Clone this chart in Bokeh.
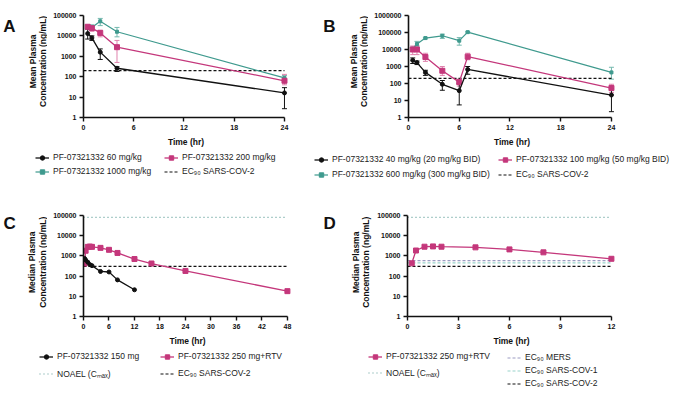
import math
from bokeh.plotting import figure
from bokeh.models import (Range1d, FixedTicker, Legend, LegendItem, Whisker, TeeHead,
                          ColumnDataSource, Label)
from bokeh.layouts import column, row
from bokeh.embed import file_html
from bokeh.resources import INLINE

# ---------------- data ----------------
# Panel A (mean plasma, single dose)
tA = [0.5, 1, 2, 4, 24]
a60 = [13000, 8000, 1600, 260, 16]
a60_lo = [7000, 6000, 700, 180, 2.7]
a60_hi = [22000, 10000, 2300, 310, 29]
a200 = [28000, 24000, 14000, 2800, 63]
a200_lo = [22000, 17000, 9000, 500, 40]
a200_hi = [33000, 31000, 19000, 6000, 130]
a1000 = [27000, 26000, 52000, 16000, 87]
a1000_lo = [21000, 19000, 32000, 9000, 60]
a1000_hi = [33000, 35000, 72000, 26000, 115]
ec90_A = 200

# Panel B (mean plasma, BID)
tB = [0.5, 1, 2, 4, 6, 7, 24]
b40 = [2300, 1700, 450, 90, 38, 670, 21]
b40_lo = [1500, 1300, 300, 40, 5.5, 350, 2.2]
b40_hi = [3200, 2100, 600, 150, 100, 1000, 50]
b100 = [10000, 10000, 3600, 560, 120, 3800, 54]
b100_lo = [5000, 5000, 2000, 300, 70, 2500, 30]
b100_hi = [16000, 17000, 6000, 1000, 180, 6000, 90]
b600 = [11000, 21000, 47000, 64000, 33000, 105000, 450]
b600_lo = [8000, 15000, 42000, 45000, 18000, 95000, 180]
b600_hi = [14000, 30000, 52000, 80000, 50000, 115000, 900]
ec90_B = 200

# Panel C (median plasma, human)
tC150 = [0.25, 0.5, 1, 1.5, 2, 4, 6, 8, 12]
c150 = [750, 630, 490, 370, 330, 170, 160, 65, 21]
tC250 = [0.25, 0.5, 1, 1.5, 2, 4, 6, 8, 12, 16, 24, 48]
c250 = [420, 1800, 2800, 2900, 2800, 2500, 2000, 1400, 700, 420, 180, 18]
noael = 80000
ec90_sars2 = 300

# Panel D
tD = [0.25, 0.5, 1, 1.5, 2, 4, 6, 8, 12]
d250 = [430, 1850, 2850, 2950, 2850, 2650, 2100, 1500, 720]
ec90_mers = 580
ec90_sars1 = 450

y_ticks_5 = [1, 10, 100, 1000, 10000, 100000]
y_ticks_6 = [1, 10, 100, 1000, 10000, 100000, 1000000]
xticks_A = [0, 6, 12, 18, 24]
xticks_C = [0, 6, 12, 18, 24, 30, 36, 42, 48]
xticks_D = [0, 3, 6, 9, 12]

# ---------------- style ----------------
FONT = "Liberation Sans"
BLACK = "#111111"
TEAL = "#3f9a8e"
TEAL_ERR = "#74b8ae"
MAG = "#c4377b"
MAG_ERR = "#e083ae"
NOAEL_C = "#5d9d96"
MERS_C = "#9c9cc2"
SARS1_C = "#9ad3cb"
PAD = 0.02
LEG_FONT = "8.5px"
LH = 11  # legend glyph/label box height


def make_fig(width, height, xmax, ymax, yticks, xticks, left, frame_w, top, frame_h):
    right = width - left - frame_w
    bottom = height - top - frame_h
    p = figure(width=width, height=height, title=None,
               x_range=Range1d(0, xmax * (1 + PAD)), y_range=Range1d(1, ymax),
               y_axis_type="log", output_backend="svg", toolbar_location=None,
               min_border_left=left, min_border_right=right,
               min_border_top=top, min_border_bottom=bottom)
    p.outline_line_color = None
    p.grid.visible = False
    for ax in (p.xaxis[0], p.yaxis[0]):
        ax.axis_line_width = 1.6
        ax.axis_line_color = BLACK
        ax.major_tick_line_width = 1.4
        ax.major_tick_line_color = BLACK
        ax.major_tick_out = 4
        ax.major_tick_in = 0
        ax.minor_tick_line_color = None
        ax.major_label_text_font = FONT
        ax.major_label_text_font_style = "bold"
        ax.major_label_text_font_size = "7px"
        ax.major_label_text_color = BLACK
        ax.major_label_standoff = 3
    xa = p.xaxis[0]
    xa.ticker = FixedTicker(ticks=xticks)
    xa.bounds = (0, xmax)
    xa.axis_label = "Time (hr)"
    xa.axis_label_text_font = FONT
    xa.axis_label_text_font_style = "bold"
    xa.axis_label_text_color = BLACK
    xa.axis_label_text_font_size = "8.5px"
    xa.axis_label_standoff = 4
    ya = p.yaxis[0]
    ya.ticker = FixedTicker(ticks=yticks)
    ya.major_label_overrides = {t: str(t) for t in yticks}
    return p


def blank_fig(width, height):
    # pixel-sized ranges so that annotations can be placed in the figure's own units
    p = figure(width=width, height=height, title=None,
               x_range=Range1d(0, width), y_range=Range1d(0, height),
               output_backend="svg", toolbar_location=None, min_border=0,
               x_axis_location=None, y_axis_location=None)
    p.outline_line_color = None
    p.grid.visible = False
    return p


def series(p, x, y, color, marker, size, lo=None, hi=None, err_color=None, lw=1.3):
    r_line = p.line(x, y, line_color=color, line_width=lw)
    r_pt = p.scatter(x, y, marker=marker, size=size, fill_color=color, line_color=color)
    if lo is not None:
        src = ColumnDataSource(dict(x=x, lo=lo, hi=hi))
        ec = err_color or color
        w = Whisker(source=src, base="x", lower="lo", upper="hi", line_color=ec, line_width=1,
                    upper_head=TeeHead(size=5, line_color=ec, line_width=1),
                    lower_head=TeeHead(size=5, line_color=ec, line_width=1))
        p.add_layout(w)
    return [r_line, r_pt]


def refline(p, xmax, yv, color, dash, lw=1.2):
    return [p.line([0, xmax], [yv, yv], line_color=color, line_dash=dash, line_width=lw)]


# legend swatches: hidden copies of the series (only their legend glyph is shown)
def sw_series(p, x, y, color, marker, size, lw=1.3):
    rs = [p.line(x, y, line_color=color, line_width=lw),
          p.scatter(x, y, marker=marker, size=size, fill_color=color, line_color=color)]
    for r in rs:
        r.visible = False
    return rs


def sw_ref(p, xmax, yv, color, dash, lw=1.2):
    r = p.line([0, xmax], [yv, yv], line_color=color, line_dash=dash, line_width=lw)
    r.visible = False
    return [r]


def add_legend(p, items, x, y, spacing):
    leg = Legend(items=[LegendItem(label=l, renderers=r) for l, r in items],
                 location=(x, y), orientation="vertical",
                 label_text_font=FONT, label_text_font_size=LEG_FONT, label_text_color="#222222",
                 glyph_width=14, glyph_height=LH, label_height=LH, label_standoff=4,
                 spacing=spacing, padding=0, margin=0, border_line_color=None,
                 background_fill_alpha=0, inactive_fill_alpha=0)
    p.add_layout(leg)


def side_fig(width, height, letter, lx, ly, line1, x1, x2, yc):
    # panel letter and the two-line y-axis title
    p = blank_fig(width, height)
    p.add_layout(Label(x=lx, y=ly, text=letter, text_align="left", text_baseline="bottom",
                       text_font=FONT, text_font_style="bold", text_font_size="17px",
                       text_color=BLACK))
    for txt, xx in ((line1, x1), ("Concentration (ng/mL)", x2)):
        p.add_layout(Label(x=xx, y=yc, text=txt, angle=math.pi / 2, text_align="center",
                           text_baseline="middle", text_font=FONT, text_font_style="bold",
                           text_font_size="8.5px", text_color=BLACK))
    return p


EC = "EC\u2089\u2080 "
NOAEL_LABEL = "NOAEL (C\u2098\u2090\u2093)"

# ---------------- Panel A ---------------- page: x 0..300, y 0..198 ; frame x 83..288, y 15..119
pA = make_fig(253, 149, 24, 100000, y_ticks_5, xticks_A, 36, 205, 15, 104)
refline(pA, 24, ec90_A, BLACK, "3 2")
series(pA, tA, a1000, TEAL, "square", 3, a1000_lo, a1000_hi, TEAL_ERR, 1.2)
series(pA, tA, a200, MAG, "square", 5, a200_lo, a200_hi, MAG_ERR)
series(pA, tA, a60, BLACK, "circle", 4, a60_lo, a60_hi, BLACK)
legA = blank_fig(300, 49)
add_legend(legA, [("PF-07321332 60 mg/kg", sw_series(legA, tA, a60, BLACK, "circle", 4)),
                  ("PF-07321332 1000 mg/kg", sw_series(legA, tA, a1000, TEAL, "square", 3, 1.2))],
           35, 21.5, 3)
add_legend(legA, [("PF-07321332 200 mg/kg", sw_series(legA, tA, a200, MAG, "square", 5)),
                  (EC + "SARS-COV-2", sw_ref(legA, 24, ec90_A, BLACK, "3 2"))], 164, 21.5, 3)
panelA = column(row(side_fig(47, 149, "A", 2.7, 119.4, "Mean Plasma", 32.3, 42.3, 82), pA), legA)

# ---------------- Panel B ---------------- page: x 300..680 ; frame x 408..615
pB = make_fig(312, 149, 24, 1000000, y_ticks_6, xticks_A, 40, 207, 15, 104)
refline(pB, 24, ec90_B, BLACK, "3 2")
series(pB, tB, b600, TEAL, "square", 3, b600_lo, b600_hi, TEAL_ERR, 1.2)
series(pB, tB, b100, MAG, "square", 5, b100_lo, b100_hi, MAG_ERR)
series(pB, tB, b40, BLACK, "circle", 4, b40_lo, b40_hi, BLACK)
legB = blank_fig(380, 49)
add_legend(legB, [("PF-07321332 40 mg/kg (20 mg/kg BID)", sw_series(legB, tB, b40, BLACK, "circle", 4)),
                  ("PF-07321332 600 mg/kg (300 mg/kg BID)",
                   sw_series(legB, tB, b600, TEAL, "square", 3, 1.2))], 14, 18.5, 4)
add_legend(legB, [("PF-07321332 100 mg/kg (50 mg/kg BID)", sw_series(legB, tB, b100, MAG, "square", 5)),
                  (EC + "SARS-COV-2", sw_ref(legB, 24, ec90_B, BLACK, "3 2"))], 198, 18.5, 4)
panelB = column(row(side_fig(68, 149, "B", 22.7, 119.4, "Mean Plasma", 53, 63, 82), pB), legB)

# ---------------- Panel C ---------------- page: x 0..300, y 198..394 ; frame x 83..291, y 215..320
pC = make_fig(253, 150, 48, 100000, y_ticks_5, xticks_C, 36, 208, 17, 105)
refline(pC, 48, noael, NOAEL_C, "1 3")
refline(pC, 48, ec90_sars2, BLACK, "3 2")
series(pC, tC250, c250, MAG, "square", 5)
series(pC, tC150, c150, BLACK, "circle", 4)
legC = blank_fig(300, 46)
add_legend(legC, [("PF-07321332 150 mg", sw_series(legC, tC150, c150, BLACK, "circle", 4)),
                  (NOAEL_LABEL, sw_ref(legC, 48, noael, NOAEL_C, "1 3"))], 39, 15.5, 6)
add_legend(legC, [("PF-07321332 250 mg+RTV", sw_series(legC, tC250, c250, MAG, "square", 5)),
                  (EC + "SARS-COV-2", sw_ref(legC, 48, ec90_sars2, BLACK, "3 2"))], 160, 15.5, 6)
panelC = column(row(side_fig(47, 150, "C", 3, 123.4, "Median Plasma", 31.7, 42.3, 80.5), pC), legC)

# ---------------- Panel D ---------------- page: x 300..680 ; frame x 407..615
pD = make_fig(308, 150, 12, 100000, y_ticks_5, xticks_D, 35, 208, 17, 105)
refline(pD, 12, noael, NOAEL_C, "1 3")
refline(pD, 12, ec90_mers, MERS_C, "3 2")
refline(pD, 12, ec90_sars1, SARS1_C, "3 2")
refline(pD, 12, ec90_sars2, BLACK, "3 2")
series(pD, tD, d250, MAG, "square", 5)
legD = blank_fig(380, 46)
add_legend(legD, [("PF-07321332 250 mg+RTV", sw_series(legD, tD, d250, MAG, "square", 5)),
                  (NOAEL_LABEL, sw_ref(legD, 12, noael, NOAEL_C, "1 3"))], 68, 16.5, 5)
add_legend(legD, [(EC + "MERS", sw_ref(legD, 12, ec90_mers, MERS_C, "3 2")),
                  (EC + "SARS-COV-1", sw_ref(legD, 12, ec90_sars1, SARS1_C, "3 2")),
                  (EC + "SARS-COV-2", sw_ref(legD, 12, ec90_sars2, BLACK, "3 2"))], 207, 5.5, 2)
panelD = column(row(side_fig(72, 150, "D", 23, 123.4, "Median Plasma", 55, 65.7, 80.5), pD), legD)

layout = column(row(panelA, panelB), row(panelC, panelD))
open("out.html", "w").write(file_html(layout, INLINE))
